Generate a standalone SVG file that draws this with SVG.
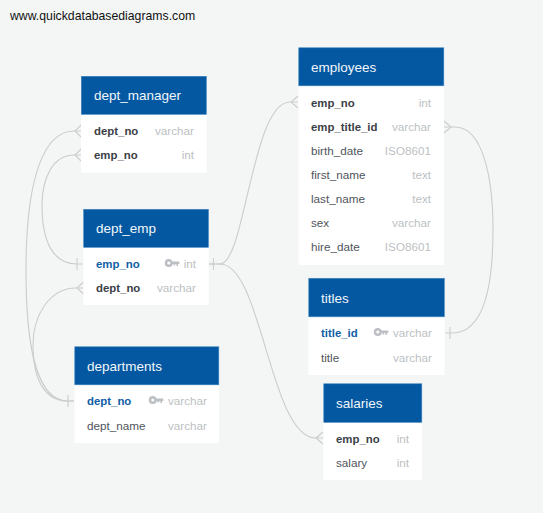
<svg xmlns="http://www.w3.org/2000/svg" width="543" height="513" viewBox="0 0 543 513">
<style>
text{font-family:"Liberation Sans",Arial,sans-serif;font-size:11.7px}
.h{fill:#0458a1;stroke:#3b82bd;stroke-width:.6}
.b{fill:#fff}
.t{fill:#f2f6fa;font-size:13.5px}
.n{fill:#50555b}
.k{fill:#3c4046;font-weight:bold;font-size:11.4px}
.p{fill:#0f5ea6;font-weight:bold;font-size:11.4px}
.y{fill:#bcbfc3;text-anchor:end}
.c{fill:none;stroke:#cbcdcc;stroke-width:1.1}
.u{font-size:12.25px;fill:#111}
</style>
<defs>
<g id="key"><circle cx="3.8" cy="0" r="2.8" fill="none" stroke="#bcbfc3" stroke-width="2.5"/><path fill="#bcbfc3" d="M6 -1.5H14.3V1H13V3H11.4V1H10.2V2.4H8.6V1H6Z"/></g>
</defs>
<rect width="543" height="513" fill="#f4f6f6"/>
<text class="u" x="10" y="20">www.quickdatabasediagrams.com</text>
<g id="connectors">
<path class="c" d="M81 131H74C45 131 26 175 26 270C26 350 37 401 68 401H74"/>
<path class="c" d="M81 155H74C52 155 42 180 42 205C42 240 52 264 77 264H83"/>
<path class="c" d="M83 288H76C50 288 33 315 33 345C33 380 45 401 68 401H74"/>
<path class="c" d="M209 264H220C245 264 252 102 290 102H298"/>
<path class="c" d="M209 264H220C262 264 270 438 316 438H323"/>
<path class="c" d="M444 127H455C482 127 493 175 493 230C493 290 482 333 452 333H445"/>
<path class="c" d="M81 125L75 131L81 137M81 149L75 155L81 161M83.500 282L77 288L83.500 294M298 96L291 102L298 108M323 432L316 438L323 444M444 121L451 127L444 133"/>
<path class="c" d="M77 258V270M68 395V407M213.500 258V270M450 327V339"/>
</g>
<g id="dept_manager"><rect class="b" x="81" y="114" width="125.500" height="58.500"/><rect class="h" x="81.300" y="76.300" width="125" height="38"/><text class="t" x="94" y="100">dept_manager</text><text class="k" x="94" y="135">dept_no</text><text class="y" x="194" y="135">varchar</text><text class="k" x="94" y="159">emp_no</text><text class="y" x="194" y="159">int</text></g>
<g id="dept_emp"><rect class="b" x="83.500" y="247" width="125" height="58"/><rect class="h" x="83.700" y="209.300" width="124.700" height="38"/><text class="t" x="96" y="233">dept_emp</text><text class="p" x="96" y="268">emp_no</text><use href="#key" x="165" y="263"/><text class="y" x="196" y="268">int</text><text class="k" x="96" y="292">dept_no</text><text class="y" x="196" y="292">varchar</text></g>
<g id="departments"><rect class="b" x="74.500" y="384" width="144.500" height="59"/><rect class="h" x="74.800" y="346.800" width="144" height="38"/><text class="t" x="87" y="370.500">departments</text><text class="p" x="87" y="405">dept_no</text><use href="#key" x="149" y="400"/><text class="y" x="207" y="405">varchar</text><text class="n" x="87" y="429.500">dept_name</text><text class="y" x="207" y="429.500">varchar</text></g>
<g id="employees"><rect class="b" x="298.500" y="85" width="145.500" height="180"/><rect class="h" x="298.800" y="47.800" width="145" height="38"/><text class="t" x="311" y="71.500">employees</text><text class="k" x="311" y="106.500">emp_no</text><text class="y" x="431" y="106.500">int</text><text class="k" x="311" y="130.500">emp_title_id</text><text class="y" x="431" y="130.500">varchar</text><text class="n" x="311" y="154.500">birth_date</text><text class="y" x="431" y="154.500">ISO8601</text><text class="n" x="311" y="178.500">first_name</text><text class="y" x="431" y="178.500">text</text><text class="n" x="311" y="203">last_name</text><text class="y" x="431" y="203">text</text><text class="n" x="311" y="227">sex</text><text class="y" x="431" y="227">varchar</text><text class="n" x="311" y="251">hire_date</text><text class="y" x="431" y="251">ISO8601</text></g>
<g id="titles"><rect class="b" x="308.500" y="316" width="136" height="59"/><rect class="h" x="308.800" y="278.300" width="135.500" height="38.500"/><text class="t" x="321" y="302.500">titles</text><text class="p" x="321" y="337">title_id</text><use href="#key" x="374" y="332"/><text class="y" x="432" y="337">varchar</text><text class="n" x="321" y="361.500">title</text><text class="y" x="432" y="361.500">varchar</text></g>
<g id="salaries"><rect class="b" x="323.500" y="422" width="98.500" height="58"/><rect class="h" x="323.800" y="383.800" width="98" height="38.500"/><text class="t" x="336" y="407.500">salaries</text><text class="k" x="336" y="442.500">emp_no</text><text class="y" x="409" y="442.500">int</text><text class="n" x="336" y="466.500">salary</text><text class="y" x="409" y="466.500">int</text></g>
</svg>
